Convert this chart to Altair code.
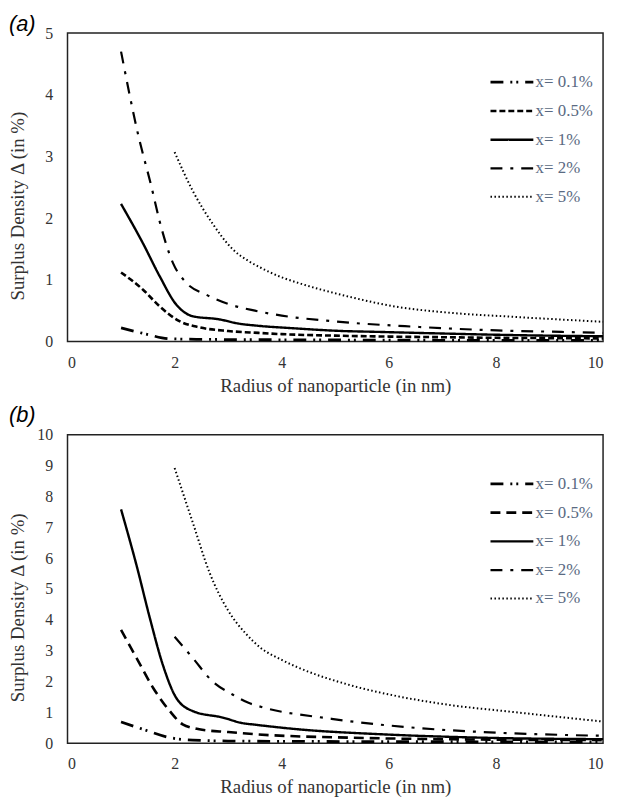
import altair as alt
import pandas as pd

series = ["x= 0.1%", "x= 0.5%", "x= 1%", "x= 2%", "x= 5%"]

# Panel (a)
a01_r = [1.0, 1.47, 1.9, 2.5, 3.0, 4.0, 5.0, 6.0, 7.0, 8.0, 9.0, 10.0]
a01_d = [0.22, 0.12, 0.045, 0.035, 0.032, 0.028, 0.025, 0.022, 0.02, 0.019, 0.018, 0.017]
a05_r = [1.0, 1.41, 1.72, 2.09, 2.46, 3.0, 3.57, 4.0, 5.0, 6.0, 7.0, 8.0, 9.0, 10.0]
a05_d = [1.12, 0.84, 0.57, 0.33, 0.23, 0.17, 0.14, 0.12, 0.095, 0.08, 0.07, 0.06, 0.055, 0.05]
a1_r = [1.0, 1.41, 1.72, 2.03, 2.34, 2.83, 3.2, 3.5, 4.31, 5.0, 5.85, 7.0, 8.0, 9.0, 10.0]
a1_d = [2.23, 1.59, 1.06, 0.6, 0.41, 0.36, 0.29, 0.26, 0.21, 0.175, 0.155, 0.13, 0.11, 0.095, 0.085]
a2_r = [1.0, 1.32, 1.57, 1.72, 1.97, 2.22, 2.59, 3.0, 3.5, 4.0, 4.93, 6.48, 8.02, 9.0, 10.0]
a2_d = [4.7, 3.35, 2.5, 1.95, 1.27, 0.95, 0.76, 0.61, 0.5, 0.42, 0.33, 0.24, 0.18, 0.16, 0.14]
a5_r = [2.0, 2.34, 2.71, 3.08, 3.39, 3.6, 4.0, 4.31, 5.24, 6.17, 7.09, 8.33, 10.0]
a5_d = [3.07, 2.44, 1.91, 1.5, 1.3, 1.2, 1.04, 0.95, 0.73, 0.56, 0.47, 0.4, 0.32]

# Panel (b)
b01_r = [1.0, 1.41, 1.91, 2.34, 3.0, 4.0, 6.0, 8.0, 10.0]
b01_d = [0.69, 0.45, 0.18, 0.1, 0.07, 0.06, 0.05, 0.045, 0.04]
b05_r = [1.0, 1.29, 1.6, 1.91, 2.15, 2.46, 3.0, 3.5, 5.24, 7.0, 10.0]
b05_d = [3.67, 2.76, 1.79, 1.04, 0.61, 0.45, 0.36, 0.29, 0.18, 0.13, 0.1]
b1_r = [1.0, 1.29, 1.54, 1.78, 2.03, 2.34, 2.9, 3.27, 3.5, 4.31, 5.85, 7.7, 10.0]
b1_d = [7.58, 5.76, 4.04, 2.54, 1.47, 1.04, 0.83, 0.65, 0.6, 0.45, 0.29, 0.18, 0.13]
b2_r = [2.0, 2.34, 2.71, 3.08, 3.39, 3.57, 4.93, 6.48, 8.02, 10.0]
b2_d = [3.45, 2.76, 2.0, 1.58, 1.3, 1.2, 0.79, 0.5, 0.34, 0.24]
b5_r = [2.0, 2.34, 2.65, 3.0, 3.33, 3.6, 4.0, 4.31, 5.24, 6.17, 7.09, 8.33, 10.0]
b5_d = [8.92, 7.15, 5.54, 4.3, 3.55, 3.1, 2.7, 2.45, 1.9, 1.52, 1.25, 1.01, 0.7]

x_ticks = [0, 2, 4, 6, 8, 10]
a_yticks = [0, 1, 2, 3, 4, 5]
b_yticks = [0, 1, 2, 3, 4, 5, 6, 7, 8, 9, 10]

widths = [2.8, 2.0, 2.0, 2.4, 1.5]
a_dashes = [[13, 7, 2, 4, 2, 7], [6, 3], [1, 0], [12, 8, 3, 8], [1.5, 2.5]]
b_dashes = [[13, 7, 2, 4, 2, 7], [10, 6], [1, 0], [12, 8, 3, 8], [1.5, 2.5]]


def make_df(parts):
    rows = []
    for name, rs, ds in parts:
        for r, d in zip(rs, ds):
            rows.append({"r": r, "d": d, "s": name})
    return pd.DataFrame(rows)


df_a = make_df([(series[0], a01_r, a01_d), (series[1], a05_r, a05_d), (series[2], a1_r, a1_d),
                (series[3], a2_r, a2_d), (series[4], a5_r, a5_d)])
df_b = make_df([(series[0], b01_r, b01_d), (series[1], b05_r, b05_d), (series[2], b1_r, b1_d),
                (series[3], b2_r, b2_d), (series[4], b5_r, b5_d)])

SERIF = "Liberation Serif"


def legend():
    return alt.Legend(title=None, orient="none", legendX=425, legendY=36,
                      symbolType="M-1,0H2.6", symbolSize=576,
                      symbolStrokeColor="black", symbolFillColor="transparent",
                      labelFont=SERIF, labelFontSize=17, labelColor="#5a6a82",
                      labelOffset=20, rowPadding=7, padding=0)


def panel(df, label, ymax, yticks, dashes, toff):
    return alt.Chart(df).mark_line(interpolate="monotone", strokeCap="butt", color="black").encode(
        x=alt.X("r:Q", scale=alt.Scale(domain=[0, 10], nice=False),
                axis=alt.Axis(values=x_ticks, title="Radius of nanoparticle (in nm)", grid=False,
                              domain=False, ticks=False, tickSize=0, labelPadding=13,
                              labelFont=SERIF, labelFontSize=16, labelColor="#333333",
                              titleFont=SERIF, titleFontSize=19, titleFontWeight="normal",
                              titleColor="#333333", titlePadding=6)),
        y=alt.Y("d:Q", scale=alt.Scale(domain=[0, ymax], nice=False),
                axis=alt.Axis(values=yticks, title="Surplus Density Δ (in %)", grid=False,
                              domain=False, ticks=False, tickSize=0, labelPadding=15,
                              labelFont=SERIF, labelFontSize=16, labelColor="#333333",
                              titleFont=SERIF, titleFontSize=19, titleFontWeight="normal",
                              titleColor="#333333", titleAngle=270, titleBaseline="bottom",
                              titleAlign="center", titleX=-40, titleY=174)),
        strokeDash=alt.StrokeDash("s:N", scale=alt.Scale(domain=series, range=dashes), legend=legend()),
        strokeWidth=alt.StrokeWidth("s:N", scale=alt.Scale(domain=series, range=widths), legend=legend()),
    ).properties(
        width=540, height=311,
        title=alt.TitleParams(label, anchor="start", frame="bounds", font="Liberation Sans",
                              fontSize=22, fontStyle="italic", fontWeight="normal",
                              color="black", offset=toff),
    )


chart_a = panel(df_a, "(a)", 5, a_yticks, a_dashes, -11)
chart_b = panel(df_b, "(b)", 10, b_yticks, b_dashes, 0)

chart = alt.vconcat(chart_a, chart_b, spacing=7).resolve_scale(
    strokeDash="independent", strokeWidth="independent", x="independent", y="independent"
).resolve_legend(strokeDash="independent", strokeWidth="independent").configure_view(
    stroke="#222222", strokeWidth=1.5
).properties(padding={"left": 0, "top": 1, "right": 0, "bottom": 0}, background="white")

chart.save("out.html", embed_options={"renderer": "svg", "actions": False})
